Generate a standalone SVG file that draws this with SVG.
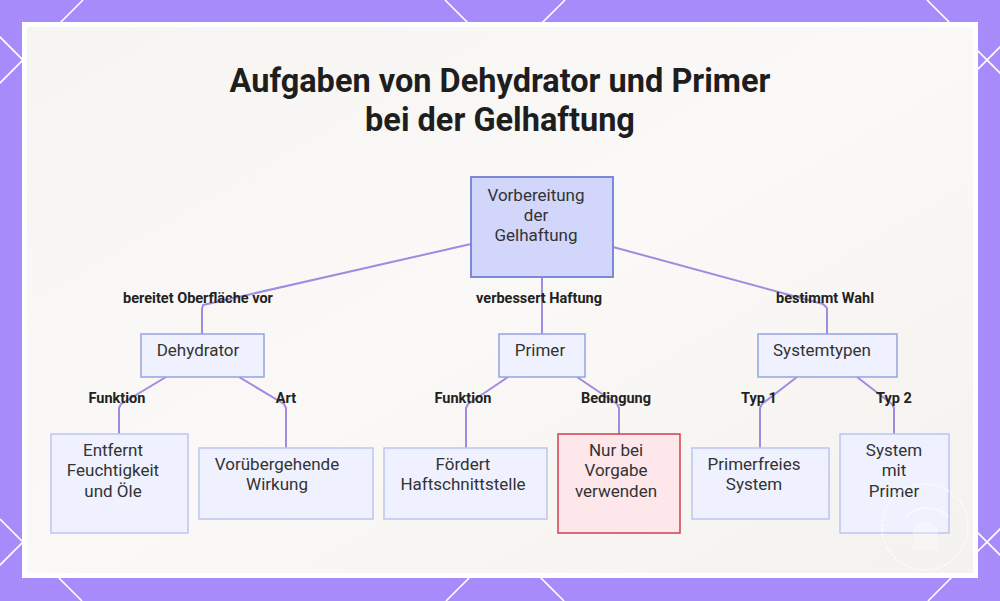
<svg xmlns="http://www.w3.org/2000/svg" width="1000" height="601" viewBox="0 0 1000 601">
<defs>
<style>
.bgl{stroke:#ffffff;stroke-width:1.6;fill:none}
.title{font-family:Roboto,"Liberation Sans",sans-serif;font-weight:700;font-size:32.5px;fill:#1e1e1e;text-anchor:middle}
.nt{font-family:Roboto,"Liberation Sans",sans-serif;font-size:17px;fill:#333333;text-anchor:middle}
.el{font-family:Roboto,"Liberation Sans",sans-serif;font-weight:700;font-size:14.5px;fill:#222222;text-anchor:middle}
.edge{stroke:#a18ae0;stroke-width:2;fill:none;stroke-linejoin:round}
.root{fill:#d1d6fa;stroke:#7c88d8;stroke-width:2}
.l2{fill:#eff2fe;stroke:#95a2e4;stroke-width:1.5}
.l3{fill:#eff2fe;stroke:#bcc5f0;stroke-width:1.5}
.warn{fill:#fde7ea;stroke:#cf3f4f;stroke-width:1.5}
</style>
<linearGradient id="pg" x1="0" y1="0" x2="1" y2="1">
<stop offset="0" stop-color="#f6f5f2"/>
<stop offset="0.5" stop-color="#faf9f7"/>
<stop offset="1" stop-color="#f4f2ee"/>
</linearGradient>
</defs>
<rect x="0" y="0" width="1000" height="601" fill="#a78bfa"/>
<g id="bg-lines">
<line class="bgl" x1="83" y1="0" x2="-1" y2="84"/>
<line class="bgl" x1="565" y1="0" x2="-36" y2="601"/>
<line class="bgl" x1="1047" y1="0" x2="446" y2="601"/>
<line class="bgl" x1="1529" y1="0" x2="928" y2="601"/>
<line class="bgl" x1="-37" y1="0" x2="564" y2="601"/>
<line class="bgl" x1="445" y1="0" x2="1046" y2="601"/>
<line class="bgl" x1="927" y1="0" x2="1528" y2="601"/>
<line class="bgl" x1="0" y1="519" x2="82" y2="601"/>
</g>
<rect x="22" y="22" width="956" height="556" fill="#ffffff"/>
<rect x="27" y="27" width="946" height="546" fill="url(#pg)"/>
<g id="title">
<text class="title" x="500" y="92">Aufgaben von Dehydrator und Primer</text>
<text class="title" x="500" y="131">bei der Gelhaftung</text>
</g>
<g id="connectors">
<path class="edge" d="M471,244 L203,305 L202,309 L202,334"/>
<path class="edge" d="M542,277 L542,334"/>
<path class="edge" d="M613,247 L823,304 L827,308 L827,334"/>
<path class="edge" d="M166,377 L121,404 L119,408 L119,434"/>
<path class="edge" d="M239,377 L284,404 L286,408 L286,448"/>
<path class="edge" d="M508,377 L468,404 L466,408 L466,448"/>
<path class="edge" d="M577,377 L617,404 L619,408 L619,434"/>
<path class="edge" d="M797,377 L762,404 L760,408 L760,448"/>
<path class="edge" d="M857,377 L892,404 L894,408 L894,434"/>
<text class="el" x="198" y="303">bereitet Oberfläche vor</text>
<text class="el" x="539" y="303">verbessert Haftung</text>
<text class="el" x="825" y="303">bestimmt Wahl</text>
<text class="el" x="117" y="403">Funktion</text>
<text class="el" x="286" y="403">Art</text>
<text class="el" x="463" y="403">Funktion</text>
<text class="el" x="616" y="403">Bedingung</text>
<text class="el" x="759" y="403">Typ 1</text>
<text class="el" x="894" y="403">Typ 2</text>
</g>
<g id="node-root">
<rect class="root" x="471" y="177" width="142" height="100"/>
<text class="nt" x="536" y="201">Vorbereitung</text>
<text class="nt" x="536" y="221">der</text>
<text class="nt" x="536" y="241">Gelhaftung</text>
</g>
<g id="node-dehydrator">
<rect class="l2" x="141" y="334" width="123" height="43"/>
<text class="nt" x="198" y="356">Dehydrator</text>
</g>
<g id="node-primer">
<rect class="l2" x="499" y="334" width="86" height="43"/>
<text class="nt" x="540" y="356">Primer</text>
</g>
<g id="node-systemtypen">
<rect class="l2" x="758" y="334" width="139" height="43"/>
<text class="nt" x="822" y="356">Systemtypen</text>
</g>
<g id="node-entfernt">
<rect class="l3" x="51" y="434" width="137" height="99"/>
<text class="nt" x="113" y="456">Entfernt</text>
<text class="nt" x="113" y="476">Feuchtigkeit</text>
<text class="nt" x="113" y="496.5">und Öle</text>
</g>
<g id="node-voruebergehend">
<rect class="l3" x="199" y="448" width="174" height="71"/>
<text class="nt" x="277" y="470">Vorübergehende</text>
<text class="nt" x="277" y="490">Wirkung</text>
</g>
<g id="node-foerdert">
<rect class="l3" x="384" y="448" width="163" height="71"/>
<text class="nt" x="463" y="470">Fördert</text>
<text class="nt" x="463" y="490">Haftschnittstelle</text>
</g>
<g id="node-nurbei">
<rect class="warn" x="558" y="434" width="122" height="99"/>
<text class="nt" x="616" y="456">Nur bei</text>
<text class="nt" x="616" y="476">Vorgabe</text>
<text class="nt" x="616" y="496.5">verwenden</text>
</g>
<g id="node-primerfrei">
<rect class="l3" x="692" y="448" width="137" height="71"/>
<text class="nt" x="754" y="470">Primerfreies</text>
<text class="nt" x="754" y="490">System</text>
</g>
<g id="node-mitprimer">
<rect class="l3" x="840" y="434" width="109" height="99"/>
<text class="nt" x="894" y="456">System</text>
<text class="nt" x="894" y="476">mit</text>
<text class="nt" x="894" y="496.5">Primer</text>
</g>
<g id="watermark" opacity="0.75">
<circle cx="925" cy="527" r="43" fill="none" stroke="#ffffff" stroke-width="1.5" stroke-dasharray="3 1.5"/>
<path d="M906,517 A26,22 0 0 1 948,517" fill="none" stroke="#ffffff" stroke-width="2" opacity="0.7"/>
<path d="M913,550 L913,530 A13,12 0 0 1 938,530 L938,550 Z" fill="#ffffff" opacity="0.45"/>
</g>
</svg>
